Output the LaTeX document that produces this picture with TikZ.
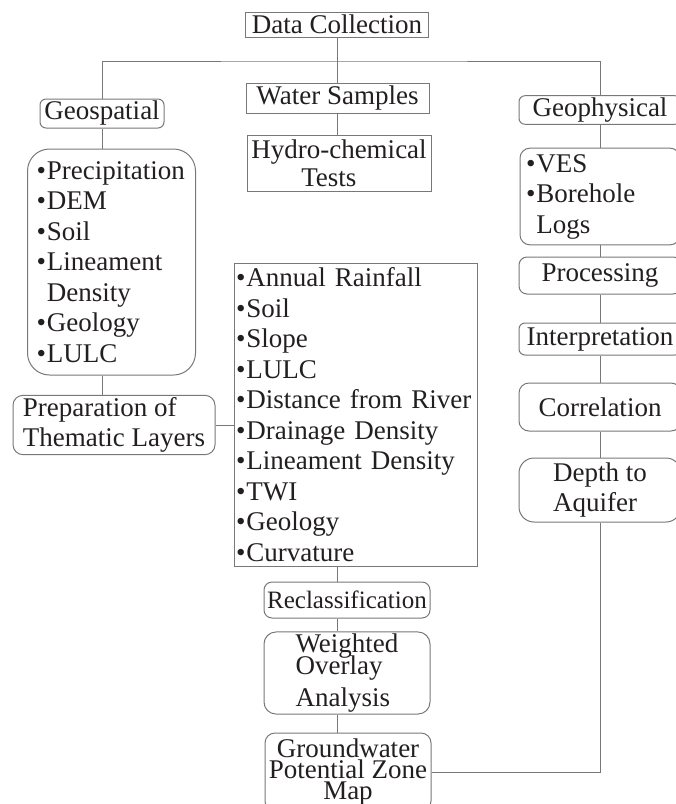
\documentclass[tikz,border=0pt]{standalone}
\usepackage{fontspec}
\setmainfont{Liberation Serif}
\definecolor{boxgray}{RGB}{120,120,120}
\definecolor{inkgray}{RGB}{35,31,32}
\newcommand{\bul}{\textbullet\hspace{1pt}}
\newcommand{\nobul}{\phantom{\textbullet}\hspace{1pt}}
\begin{document}
\begin{tikzpicture}[x=1pt, y=-1pt, line width=1pt, boxgray,
  sq box/.style={rectangle,draw=boxgray,inner sep=2pt},
  rd box/.style={rectangle,draw=boxgray,rounded corners=#1,inner sep=2pt},
  rd box/.default=8pt]
\useasboundingbox (0,0) rectangle (676,804);
\clip (0,0) rectangle (676,804);
\begin{scope}[every node/.style={text=inkgray,font=\fontsize{27pt}{30.5pt}\selectfont}]
\node [sq box, minimum width=183pt, minimum height=25pt] (dc) at (337,24.5) {Data Collection};
\node [sq box, minimum width=183pt, minimum height=30pt] (ws) at (337.5,98) {Water Samples};
\node [sq box, minimum width=184pt, minimum height=56pt, align=left] (hct) at (339,163) {Hydro-chemical\\[-2.5pt]\hspace*{50pt}Tests};
\node [rd box=6pt, minimum width=124pt, minimum height=29pt] (geo) at (102,113.5) {Geospatial};
\node [rd box=22pt, minimum height=226pt, text width=150pt, inner sep=9pt, align=left] (geolist) at (111.5,262) {\bul Precipitation\\\bul DEM\\\bul Soil\\\bul Lineament\\\nobul Density\\\bul Geology\\\bul LULC};
\node [rd box=10pt, minimum width=202pt, minimum height=56pt, align=left] (prep) at (114,425) {Preparation of\\Thematic Layers};
\node [sq box, minimum height=303pt, text width=239pt, inner sep=2pt, align=left] (layers) at (355.5,414.5) {\bul Annual Rainfall\\\bul Soil\\\bul Slope\\\bul LULC\\\bul Distance from River\\\bul Drainage Density\\\bul Lineament Density\\\bul TWI\\\bul Geology\\\bul Curvature};
\node [rd box=8pt, minimum width=166pt, minimum height=36pt, font=\fontsize{25pt}{28pt}\selectfont] (reclass) at (347,600) {Reclassification};
\node [rd box=12pt, minimum width=166pt, minimum height=82pt, align=left] (wol) at (347,673) {Weighted\\[-8.5pt]Overlay\\[1pt]Analysis};
\node [rd box=10pt, minimum width=166pt, minimum height=78pt, align=center] (gwpz) at (348,772) {Groundwater\\[-9.5pt]Potential Zone\\[-9.5pt]Map};
\node [rd box=6pt, minimum width=162pt, minimum height=28pt] (gph) at (600,110) {Geophysical};
\node [rd box=10pt, minimum height=87pt, text width=148pt, inner sep=6pt, align=left] (ves) at (600,196.5) {\bul VES\\\bul Borehole\\\nobul Logs};
\node [rd box=8pt, minimum width=162pt, minimum height=37pt] (proc) at (600,275.5) {Processing};
\node [rd box=6pt, minimum width=162pt, minimum height=32pt] (interp) at (600,339) {Interpretation};
\node [rd box=10pt, minimum width=162pt, minimum height=48pt] (corr) at (600,407) {Correlation};
\node [rd box=15pt, minimum width=162pt, minimum height=64pt, align=left] (depth) at (600,490) {Depth to\\Aquifer};
\end{scope}
\coordinate (split) at (337,61);
\draw (dc.south) -- (dc.south |- ws.north);
\draw (geo.north) |- (split) -| (gph.north);
\draw (ws.south) -- (ws.south |- hct.north);
\draw (geo.south) -- (geo.south |- geolist.north);
\draw (geo.south |- geolist.south) -- (geo.south |- prep.north);
\draw (prep.east) -- (prep.east -| layers.west);
\draw (layers.south -| dc.south) -- (reclass.north -| dc.south);
\draw (reclass.south -| dc.south) -- (wol.north -| dc.south);
\draw (wol.south -| dc.south) -- (gwpz.north -| dc.south);
\draw (gph) -- (ves);
\draw (ves) -- (proc);
\draw (proc) -- (interp);
\draw (interp) -- (corr);
\draw (corr) -- (depth);
\draw (depth.south) |- (gwpz.east);
\end{tikzpicture}
\end{document}
